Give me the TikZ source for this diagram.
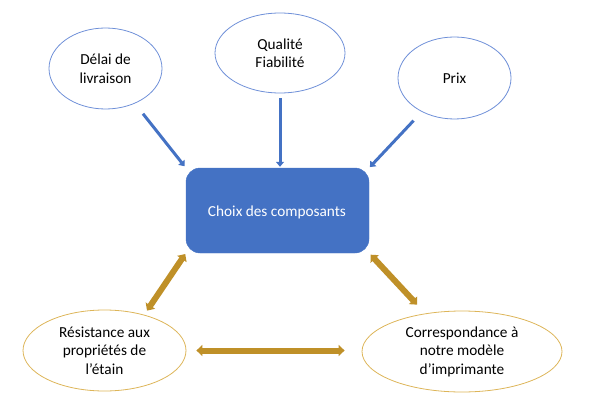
\documentclass[tikz,border=0pt]{standalone}
\usepackage{fontspec}
\setmainfont{Carlito}
\usetikzlibrary{shapes.geometric,arrows.meta}
\definecolor{mainblue}{HTML}{4472C4}
\definecolor{lineblue}{HTML}{6F90D8}
\definecolor{goldarrow}{HTML}{BF9028}
\definecolor{goldline}{HTML}{DDB559}
\tikzset{
  bubble/.style={ellipse, draw=lineblue, line width=0.8pt, inner sep=0pt, align=center,
    font=\fontsize{15.3}{18.5}\selectfont},
  goldbubble/.style={bubble, draw=goldline},
  mainbox/.style={rounded corners=14pt, fill=mainblue, draw=mainblue, text=white,
    inner sep=0pt, font=\fontsize{15.3}{18.5}\selectfont},
  bluearrow/.style={draw=mainblue, line width=3pt, -{Triangle[width=8pt,length=5pt]}},
  goldarrow/.style={draw=goldarrow, line width=6pt,
    {Triangle[width=11pt,length=6pt]}-{Triangle[width=11pt,length=6pt]}},
}
\begin{document}
\begin{tikzpicture}[x=1pt,y=-1pt]
\useasboundingbox (0,0) rectangle (591,417);
\node[bubble, minimum width=113pt, minimum height=81pt] (delai) at (105.5,68.5) {Délai de\\livraison};
\node[bubble, minimum width=130pt, minimum height=80pt] (qual) at (280,53) {Qualité\\Fiabilité};
\node[bubble, minimum width=113pt, minimum height=82pt] (prix) at (454.5,78) {Prix};
\node[mainbox, minimum width=183pt, minimum height=85pt] (box) at (277.5,210.5) {};
\node[text=white, font=\fontsize{15.3}{18.5}\selectfont, inner sep=0pt] (boxtext) at (277,212) {Choix des composants};
\node[goldbubble, minimum width=163pt, minimum height=81pt] (res) at (104.5,350.5) {Résistance aux\\propriétés de\\l’étain};
\node[goldbubble, minimum width=200pt, minimum height=81pt] (corr) at (462,351.5) {Correspondance à\\notre modèle\\d’imprimante};

\draw[bluearrow, shorten <=13pt, shorten >=2pt] (delai.-50.6) -- (box.north west);
\draw[bluearrow, shorten <=5pt, shorten >=1pt] (qual.south) -- (qual.south |- box.north);
\draw[bluearrow, shorten <=12pt, shorten >=1pt] (prix.-134.7) -- (box.north east);

\draw[goldarrow, shorten <=1pt, shorten >=5pt] (box.south west) -- (res.42.9);
\draw[goldarrow, shorten <=2pt, shorten >=12pt] (box.south east) -- (corr.134);
\draw[goldarrow, shorten <=10pt, shorten >=17pt] (res.east) -- (res.east -| corr.west);
\end{tikzpicture}
\end{document}
